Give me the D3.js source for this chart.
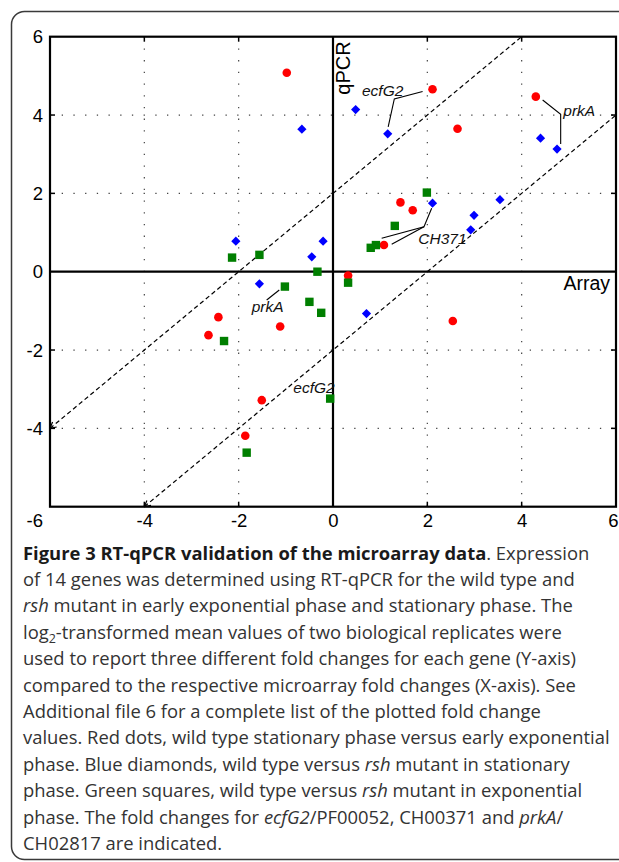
<!DOCTYPE html>
<html><head><meta charset="utf-8">
<script src="https://cdn.jsdelivr.net/npm/d3@7"></script>
<style>
html,body{margin:0;padding:0;background:#fff;overflow:hidden;}
svg{display:block;}
</style></head>
<body>
<script>
// ---- data ----
const redX   = [-0.98, 2.11, 4.30, 2.64, 1.43, 1.69, 1.08, 0.32, 2.54, -2.43, -2.64, -1.12, -1.51, -1.86];
const redY   = [ 5.08, 4.66, 4.47, 3.65, 1.77, 1.57, 0.68, -0.10, -1.26, -1.16, -1.62, -1.40, -3.28, -4.19];
const blueX  = [-0.66, 0.48, 1.16, 4.40, 4.75, 2.11, 3.54, 2.99, 2.92, -0.21, -0.45, -2.06, -1.56, 0.71];
const blueY  = [ 3.64, 4.14, 3.52, 3.41, 3.13, 1.75, 1.84, 1.44, 1.07, 0.78, 0.38, 0.78, -0.31, -1.07];
const greenX = [-2.14, -1.56, 1.99, 1.31, 0.91, 0.80, -0.33, 0.32, -0.50, -0.25, -0.06, -1.02, -2.31, -1.83];
const greenY = [ 0.36, 0.43, 2.02, 1.17, 0.68, 0.61, 0.00, -0.28, -0.77, -1.05, -3.24, -0.38, -1.77, -4.62];
const xTicks = [-4, -2, 0, 2, 4, 6];
const yTicks = [6, 4, 2, 0, -2, -4, -6];
const gridVals = [-4, -2, 2, 4];
const diagOffsets = [2, -2];           // y = x + c
const xLabel = "Array", yLabel = "qPCR";
// annotation labels (data coords) and leader polylines
const annLabels = [
  {t:"ecfG2", x:0.614, y:4.486},
  {t:"prkA",  x:4.882, y:3.983},
  {t:"CH371", x:1.808, y:0.700},
  {t:"prkA",  x:-1.724, y:-1.036},
  {t:"ecfG2", x:-0.842, y:-3.104}
];
const annLines = [
  [[1.90,4.60],[1.30,4.41],[1.17,3.70]],
  [[4.445,4.384],[4.827,4.019],[4.827,3.261]],
  [[2.092,1.619],[1.929,1.149],[1.032,0.853]],
  [[1.929,1.149],[1.244,0.700]],
  [[-1.406,-0.722],[-1.139,-0.467]]
];
const captionLines = [
  [["b","Figure 3 RT-qPCR validation of the microarray data"],["n",". Expression"]],
  [["n","of 14 genes was determined using RT-qPCR for the wild type and"]],
  [["i","rsh"],["n"," mutant in early exponential phase and stationary phase. The"]],
  [["n","log"],["sub","2"],["n2","-transformed mean values of two biological replicates were"]],
  [["n","used to report three different fold changes for each gene (Y-axis)"]],
  [["n","compared to the respective microarray fold changes (X-axis). See"]],
  [["n","Additional file 6 for a complete list of the plotted fold change"]],
  [["n","values. Red dots, wild type stationary phase versus early exponential"]],
  [["n","phase. Blue diamonds, wild type versus "],["i","rsh"],["n"," mutant in stationary"]],
  [["n","phase. Green squares, wild type versus "],["i","rsh"],["n"," mutant in exponential"]],
  [["n","phase. The fold changes for "],["i","ecfG2"],["n","/PF00052, CH00371 and "],["i","prkA"],["n","/"]],
  [["n","CH02817 are indicated."]]
];

// ---- layout ----
const W = 619, H = 862;
const svg = d3.select("body").append("svg").attr("width", W).attr("height", H);
const x = d3.scaleLinear().domain([-6, 6]).range([50, 616]);
const y = d3.scaleLinear().domain([-6, 6]).range([506.7, 36.7]);

// outer frame
svg.append("rect").attr("x", 11.5).attr("y", 11.5).attr("width", 720).attr("height", 848)
  .attr("rx", 13).attr("fill", "none").attr("stroke", "#3a3a3a").attr("stroke-width", 1.5);

const g = svg.append("g");
// grid
g.selectAll(".gv").data(gridVals).join("line")
  .attr("x1", d => x(d)).attr("x2", d => x(d)).attr("y1", y(6)).attr("y2", y(-6))
  .attr("stroke", "#444").attr("stroke-width", 1.2).attr("stroke-dasharray", "1.3,10.4");
g.selectAll(".gh").data(gridVals).join("line")
  .attr("y1", d => y(d)).attr("y2", d => y(d)).attr("x1", x(-6)).attr("x2", x(6))
  .attr("stroke", "#444").attr("stroke-width", 1.2).attr("stroke-dasharray", "1.3,10.4");

// inward ticks on four sides
const tl = 5;
gridVals.forEach(v => {
  g.append("line").attr("x1", x(v)).attr("x2", x(v)).attr("y1", y(6)).attr("y2", y(6) + tl).attr("stroke", "#000").attr("stroke-width", 1.5);
  g.append("line").attr("x1", x(v)).attr("x2", x(v)).attr("y1", y(-6)).attr("y2", y(-6) - tl).attr("stroke", "#000").attr("stroke-width", 1.5);
  g.append("line").attr("y1", y(v)).attr("y2", y(v)).attr("x1", x(-6)).attr("x2", x(-6) + tl).attr("stroke", "#000").attr("stroke-width", 1.5);
  g.append("line").attr("y1", y(v)).attr("y2", y(v)).attr("x1", x(6)).attr("x2", x(6) - tl).attr("stroke", "#000").attr("stroke-width", 1.5);
});

// arrow marker
const defs = svg.append("defs");
defs.append("marker").attr("id", "arr").attr("viewBox", "-1 -5 10 10")
  .attr("refX", 0).attr("refY", 0).attr("markerWidth", 10).attr("markerHeight", 10)
  .attr("markerUnits", "userSpaceOnUse").attr("orient", "auto")
  .append("path").attr("d", "M6,-3.2 L0,0 L6,3.2").attr("fill", "none").attr("stroke", "#000").attr("stroke-width", 1.2);

// diagonal dashed lines y = x + c clipped to [-6,6]
diagOffsets.forEach(c => {
  const x0 = Math.max(-6, -6 - c), x1 = Math.min(6, 6 - c);
  g.append("line").attr("x1", x(x0)).attr("y1", y(x0 + c)).attr("x2", x(x1)).attr("y2", y(x1 + c))
    .attr("stroke", "#000").attr("stroke-width", 1.2).attr("stroke-dasharray", "4.5,3")
    .attr("marker-start", "url(#arr)");
});

// zero axes
g.append("line").attr("x1", x(0)).attr("x2", x(0)).attr("y1", y(6)).attr("y2", y(-6)).attr("stroke", "#000").attr("stroke-width", 2.2);
g.append("line").attr("y1", y(0)).attr("y2", y(0)).attr("x1", x(-6)).attr("x2", x(6)).attr("stroke", "#000").attr("stroke-width", 2.2);
// box
g.append("rect").attr("x", x(-6)).attr("y", y(6)).attr("width", x(6) - x(-6)).attr("height", y(-6) - y(6))
  .attr("fill", "none").attr("stroke", "#000").attr("stroke-width", 2.2);

// tick labels via axes
const axL = svg.append("g").attr("transform", `translate(${x(-6) - 7},0)`)
  .call(d3.axisLeft(y).tickValues(yTicks).tickSize(0).tickPadding(0).tickFormat(d3.format("d")));
const axB = svg.append("g").attr("transform", `translate(0,${y(-6) + 4})`)
  .call(d3.axisBottom(x).tickValues(xTicks).tickSize(0).tickPadding(0).tickFormat(d3.format("d")));
[axL, axB].forEach(a => {
  a.select(".domain").remove();
  a.selectAll("text").attr("font-family", "Liberation Sans, Arial, sans-serif").attr("font-size", 18.5).attr("fill", "#000");
});
axL.selectAll("text").attr("dy", "0.34em");
axL.selectAll(".tick").filter(d => d === -6).select("text").attr("dy", "1.05em");
axB.selectAll("text").attr("dy", "0.9em");
// last x label sits at the right edge: keep it inside the page
axB.selectAll(".tick").filter(d => d === 6).select("text").attr("text-anchor", "end").attr("x", 2);
// unicode minus -> hyphen like reference
svg.selectAll(".tick text").text(d => String(d));

// axis titles
svg.append("text").attr("transform", `translate(${x(0) + 17},${y(6) + 58}) rotate(-90)`)
  .attr("font-family", "Liberation Sans, Arial, sans-serif").attr("font-size", 20).text(yLabel);
svg.append("text").attr("x", 610).attr("y", 290).attr("text-anchor", "end")
  .attr("font-family", "Liberation Sans, Arial, sans-serif").attr("font-size", 19.5).text(xLabel);

// leader lines
const lineGen = d3.line().x(d => x(d[0])).y(d => y(d[1]));
g.selectAll(".ann").data(annLines).join("path").attr("d", lineGen)
  .attr("fill", "none").attr("stroke", "#000").attr("stroke-width", 1.1);

// markers
const pts = (xs, ys) => xs.map((v, i) => [v, ys[i]]);
g.selectAll(".red").data(pts(redX, redY)).join("circle")
  .attr("cx", d => x(d[0])).attr("cy", d => y(d[1])).attr("r", 4.3).attr("fill", "#ff0000");
g.selectAll(".blue").data(pts(blueX, blueY)).join("path")
  .attr("d", d => { const cx = x(d[0]), cy = y(d[1]), r = 4.6; return `M${cx},${cy - r}L${cx + r},${cy}L${cx},${cy + r}L${cx - r},${cy}Z`; })
  .attr("fill", "#0000ff");
g.selectAll(".green").data(pts(greenX, greenY)).join("rect")
  .attr("x", d => x(d[0]) - 4.2).attr("y", d => y(d[1]) - 4.2).attr("width", 8.4).attr("height", 8.4)
  .attr("fill", "#007f00");

// annotation labels
svg.selectAll(".annt").data(annLabels).join("text")
  .attr("x", d => x(d.x)).attr("y", d => y(d.y))
  .attr("font-family", "Liberation Sans, Arial, sans-serif").attr("font-style", "italic")
  .attr("font-size", 15.5).attr("fill", "#111").text(d => d.t);

// caption
const cap = svg.append("g").attr("font-family", "Open Sans, Noto Sans, sans-serif").attr("font-size", 18.4);
captionLines.forEach((line, i) => {
  const t = cap.append("text").attr("x", 23).attr("y", 559.5 + 26.4 * i).attr("fill", "#333");
  line.forEach(([k, s]) => {
    const ts = t.append("tspan").text(s);
    if (k === "b") ts.attr("font-weight", "bold").attr("fill", "#1a1a1a");
    if (k === "i") ts.attr("font-style", "italic");
    if (k === "sub") ts.attr("font-size", 12.5).attr("dy", 4);
    if (k === "n2") ts.attr("dy", -4);
  });
});
</script>
</body></html>
